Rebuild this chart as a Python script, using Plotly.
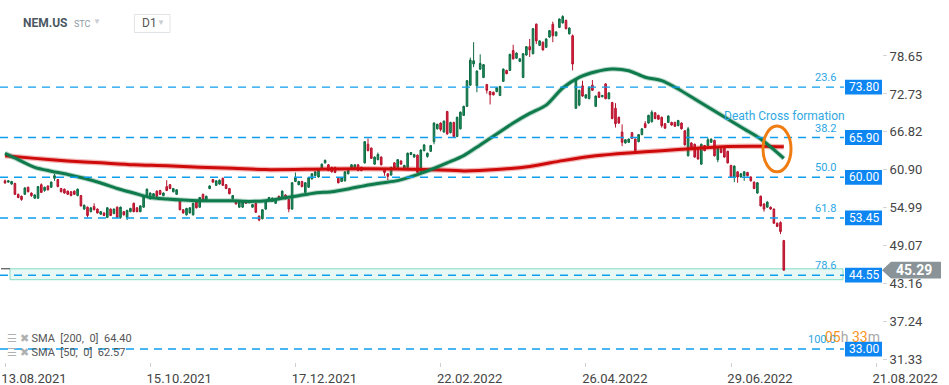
import plotly.graph_objects as go

# ---------------- data ----------------
bar_index = list(range(237))

opens = [
    59.2, 59.0, 58.7, 58.8, 57.1, 56.8, 57.1, 58.2, 57.3, 56.5,
    56.5, 58.6, 57.7, 58.4, 58.2, 59.6, 59.4, 58.0, 57.9, 57.6,
    57.5, 57.6, 56.9, 56.9, 54.8, 55.1, 54.4, 55.2, 54.8, 54.0,
    54.2, 53.5, 54.8, 54.1, 55.1, 53.5, 54.4, 53.5, 54.4, 55.7,
    55.0, 54.4, 55.1, 56.9, 56.4, 56.8, 57.6, 57.7, 56.9, 58.3,
    58.6, 57.5, 57.1, 56.2, 54.7, 53.9, 54.2, 53.9, 56.1, 55.1,
    57.1, 56.1, 58.0, 59.4, 58.5, 58.7, 59.6, 58.6, 58.0, 56.4,
    56.1, 55.1, 55.1, 56.1, 55.8, 55.1, 55.7, 53.7, 53.3, 54.8,
    56.1, 56.0, 55.7, 56.8, 56.6, 57.0, 56.3, 54.8, 59.1, 58.6,
    59.1, 57.4, 58.2, 59.5, 60.0, 59.8, 61.2, 62.0, 61.7, 61.3,
    61.3, 59.6, 59.1, 59.2, 60.3, 61.1, 61.2, 61.7, 61.3, 62.0,
    64.9, 64.3, 61.8, 62.5, 62.9, 61.0, 60.3, 60.1, 62.0, 61.3,
    62.3, 61.2, 61.3, 63.3, 62.9, 63.2, 60.5, 63.9, 63.0, 63.8,
    65.3, 67.3, 68.2, 66.8, 70.0, 66.7, 68.3, 66.1, 67.3, 69.4,
    70.8, 74.1, 77.4, 74.0, 76.6, 75.3, 74.2, 73.1, 73.0, 73.1,
    72.5, 74.7, 76.4, 76.4, 79.5, 78.3, 77.8, 75.3, 78.8, 80.1,
    79.0, 83.6, 80.3, 80.8, 80.0, 81.6, 83.6, 81.8, 83.1, 83.8,
    84.2, 82.1, 81.8, 70.5, 71.0, 74.0, 72.1, 72.0, 74.1, 70.8,
    73.0, 72.3, 74.3, 72.0, 71.4, 70.5, 69.1, 66.8, 65.1, 65.2,
    66.7, 65.7, 65.3, 66.4, 68.1, 68.2, 68.4, 69.8, 69.4, 69.1,
    68.1, 68.3, 68.3, 68.3, 67.8, 68.2, 67.0, 63.1, 65.1, 64.9,
    64.3, 61.8, 64.7, 64.7, 65.2, 65.5, 62.5, 64.2, 64.3, 63.8,
    61.6, 59.8, 60.6, 59.8, 60.0, 60.5, 59.8, 59.0, 57.3, 56.8,
    55.6, 55.1, 55.1, 54.8, 52.6, 52.7, 49.9,
]
closes = [
    58.9, 59.2, 59.1, 57.1, 56.6, 56.3, 58.1, 57.5, 56.9, 57.0,
    58.3, 57.4, 58.2, 57.8, 59.0, 60.0, 58.3, 57.5, 57.3, 57.1,
    56.9, 57.1, 57.9, 55.3, 55.4, 53.8, 55.0, 54.7, 54.2, 54.4,
    53.8, 55.0, 53.8, 54.8, 53.5, 55.1, 53.9, 54.6, 54.9, 54.4,
    54.4, 55.3, 56.9, 57.9, 57.3, 57.2, 56.8, 57.1, 57.3, 57.7,
    58.0, 58.0, 57.8, 54.7, 54.2, 54.9, 55.0, 55.7, 55.0, 56.6,
    56.2, 56.8, 58.4, 59.0, 59.2, 59.3, 58.5, 58.0, 57.2, 56.9,
    55.6, 56.0, 55.9, 55.7, 56.1, 55.5, 54.3, 53.1, 54.7, 56.1,
    56.6, 56.5, 56.4, 56.4, 57.6, 56.4, 54.8, 58.9, 59.7, 59.1,
    58.3, 58.9, 59.7, 60.3, 60.6, 61.0, 61.8, 62.4, 60.8, 60.6,
    60.5, 58.9, 59.7, 60.6, 60.8, 61.7, 61.7, 60.8, 60.8, 65.3,
    63.9, 62.7, 62.9, 63.3, 61.7, 60.5, 59.9, 61.3, 61.2, 62.5,
    61.8, 61.6, 63.5, 63.6, 63.3, 60.5, 64.0, 64.8, 63.5, 64.7,
    68.2, 68.0, 67.2, 68.5, 66.5, 68.3, 66.1, 69.1, 69.9, 70.8,
    74.8, 78.0, 77.9, 76.3, 77.5, 77.3, 73.3, 72.6, 72.6, 73.7,
    73.9, 76.6, 75.9, 78.9, 78.2, 79.1, 78.2, 79.0, 80.1, 79.6,
    82.9, 81.0, 81.0, 79.6, 81.3, 82.6, 81.8, 82.4, 84.4, 84.8,
    82.9, 83.0, 77.4, 75.1, 73.3, 72.4, 72.6, 73.8, 73.3, 72.4,
    72.2, 72.5, 72.0, 72.9, 68.9, 68.1, 68.2, 65.2, 65.6, 65.7,
    65.8, 63.9, 66.4, 67.3, 67.5, 69.4, 69.9, 68.9, 68.8, 67.8,
    67.4, 69.3, 67.9, 67.7, 68.6, 67.3, 64.8, 67.3, 64.4, 62.9,
    62.6, 64.9, 63.9, 65.6, 65.7, 63.1, 64.3, 63.6, 62.9, 62.0,
    59.8, 61.5, 59.8, 60.3, 60.6, 60.0, 59.2, 58.0, 58.9, 55.3,
    54.8, 55.9, 54.8, 52.6, 52.1, 51.3, 45.29,
]
highs = [
    59.4, 59.3, 59.2, 58.9, 57.2, 56.9, 58.2, 58.3, 57.4, 57.1,
    58.4, 58.8, 58.3, 58.5, 59.1, 60.3, 59.5, 58.1, 58.0, 57.7,
    57.6, 57.7, 58.0, 57.0, 55.5, 55.2, 55.1, 55.7, 54.9, 54.5,
    54.3, 55.1, 54.9, 54.9, 55.2, 55.2, 54.5, 54.7, 55.0, 55.8,
    55.1, 55.4, 57.0, 58.0, 57.4, 57.3, 57.7, 57.8, 57.4, 59.3,
    58.7, 58.1, 57.9, 56.3, 54.8, 55.0, 55.1, 55.8, 56.2, 56.7,
    57.2, 56.9, 58.5, 59.5, 59.3, 59.4, 59.7, 58.7, 58.1, 57.0,
    56.2, 56.1, 56.0, 56.2, 56.2, 55.6, 55.8, 53.8, 54.8, 56.2,
    56.7, 56.6, 56.5, 56.9, 57.7, 57.1, 56.4, 59.0, 60.5, 59.2,
    59.2, 59.0, 59.8, 60.4, 60.7, 61.1, 61.9, 62.5, 61.8, 61.4,
    61.4, 59.7, 59.8, 60.7, 60.9, 61.8, 61.8, 61.8, 61.4, 65.4,
    65.8, 64.4, 63.0, 63.6, 63.0, 61.1, 60.4, 61.4, 62.1, 62.6,
    62.4, 61.7, 63.6, 63.7, 63.4, 63.3, 64.1, 64.9, 63.6, 64.8,
    68.3, 68.1, 68.3, 68.6, 70.1, 68.4, 68.4, 69.2, 70.0, 70.9,
    74.9, 78.4, 80.8, 76.4, 78.9, 77.4, 74.3, 73.2, 73.1, 73.8,
    74.0, 76.7, 76.5, 79.0, 80.4, 79.2, 78.3, 79.1, 80.2, 81.3,
    83.0, 83.7, 81.1, 80.9, 81.4, 82.7, 84.0, 82.5, 84.5, 85.0,
    84.3, 83.1, 82.0, 75.2, 73.4, 74.8, 72.7, 73.9, 74.9, 72.5,
    73.1, 72.6, 74.4, 73.0, 71.5, 71.3, 69.2, 68.0, 65.7, 65.8,
    66.8, 65.8, 66.5, 67.4, 68.5, 69.5, 70.2, 69.9, 69.5, 69.2,
    68.2, 69.4, 68.4, 68.4, 68.7, 68.3, 67.1, 67.6, 65.2, 65.0,
    64.4, 65.0, 64.8, 65.9, 65.8, 65.6, 64.4, 64.3, 64.4, 63.9,
    61.7, 61.6, 60.7, 60.4, 60.7, 60.6, 59.9, 59.1, 59.0, 56.9,
    55.7, 56.0, 55.2, 54.9, 52.7, 52.9, 50.0,
]
lows = [
    58.7, 58.9, 58.6, 57.0, 56.5, 56.1, 57.0, 57.4, 56.7, 56.4,
    56.4, 57.3, 57.5, 57.7, 58.1, 59.2, 58.2, 57.4, 57.2, 57.0,
    56.8, 57.0, 56.8, 55.2, 54.7, 53.5, 54.3, 54.6, 54.1, 53.9,
    53.7, 53.4, 53.7, 54.0, 53.4, 53.3, 53.8, 53.1, 54.3, 54.3,
    54.3, 54.3, 55.0, 56.8, 56.3, 56.7, 56.7, 57.0, 56.8, 57.6,
    57.9, 57.4, 57.0, 54.6, 54.1, 53.8, 54.1, 53.8, 54.9, 55.0,
    56.1, 56.0, 57.9, 58.9, 58.4, 58.6, 58.4, 57.9, 57.1, 56.3,
    55.5, 55.0, 55.0, 55.6, 55.7, 55.0, 54.2, 52.9, 53.2, 54.7,
    56.0, 55.9, 55.6, 56.3, 56.5, 56.3, 54.3, 54.7, 59.0, 58.5,
    58.2, 57.3, 58.1, 59.4, 59.9, 59.7, 61.1, 61.9, 60.7, 60.5,
    60.4, 58.8, 59.0, 59.1, 60.2, 61.0, 61.1, 60.7, 60.7, 61.9,
    63.8, 62.6, 61.7, 62.4, 61.6, 60.0, 59.3, 60.0, 61.1, 61.2,
    61.7, 61.1, 61.2, 63.2, 62.8, 60.4, 60.4, 63.8, 62.8, 63.7,
    64.9, 67.2, 66.9, 66.7, 66.4, 66.6, 66.0, 66.0, 67.2, 69.3,
    70.7, 74.0, 76.9, 73.0, 76.5, 75.2, 72.8, 71.1, 72.5, 73.0,
    72.4, 74.6, 75.8, 76.3, 78.1, 78.2, 77.7, 75.2, 78.7, 78.5,
    78.9, 80.5, 80.2, 79.5, 79.9, 81.5, 80.8, 81.7, 83.0, 83.7,
    82.8, 82.0, 76.4, 70.4, 70.8, 72.3, 72.0, 71.9, 73.2, 70.7,
    72.1, 72.2, 71.9, 71.9, 68.8, 67.5, 68.1, 64.6, 65.0, 65.1,
    65.7, 63.8, 65.2, 66.3, 67.4, 68.1, 68.3, 68.8, 68.7, 67.5,
    67.3, 68.2, 67.8, 67.6, 67.7, 67.2, 64.7, 63.0, 64.3, 62.8,
    62.5, 61.7, 63.8, 64.6, 65.1, 63.0, 62.1, 63.5, 62.8, 61.9,
    59.7, 59.0, 58.9, 59.7, 59.2, 59.9, 59.1, 57.9, 57.2, 55.2,
    54.4, 55.0, 54.7, 52.5, 52.0, 50.9, 45.2,
]

sma200_idx = [0, 9, 19, 29, 39, 49, 59, 69, 79, 99, 119, 135, 139, 149, 159,
              169, 179, 189, 199, 209, 219, 229, 236]
sma200_val = [63.1, 62.7, 62.3, 62.0, 61.7, 61.55, 61.3, 61.15, 60.95, 61.05,
              61.05, 60.85, 60.75, 60.95, 61.45, 62.35, 63.1, 63.55, 63.9,
              64.25, 64.55, 64.6, 64.5]

sma50_idx = [0, 4, 9, 14, 19, 24, 29, 34, 39, 44, 49, 54, 59, 64, 69, 74, 79,
             84, 89, 94, 99, 104, 109, 114, 119, 124, 129, 134, 139, 144, 149,
             154, 159, 164, 169, 174, 179, 184, 189, 194, 199, 204, 209, 214,
             219, 224, 229, 236]
sma50_val = [63.5, 62.5, 61.3, 60.7, 60.2, 59.6, 58.87, 58.0, 57.3, 56.6,
             56.37, 56.2, 56.1, 56.1, 56.1, 56.0, 56.1, 56.48, 56.89, 57.31,
             57.5, 57.93, 58.45, 58.87, 59.23, 60.0, 60.95, 62.0, 63.13, 64.8,
             66.5, 68.2, 69.7, 71.0, 73.66, 75.33, 76.2, 76.62, 76.36, 75.33,
             74.8, 73.51, 71.95, 70.39, 68.84, 67.28, 65.72, 62.7]

fib_pcts = ["23.6", "38.2", "50.0", "61.8", "78.6", "100.0"]
fib_levels = [73.80, 65.95, 59.75, 53.42, 44.50, 33.00]
fib_labels = ["73.80", "65.90", "60.00", "53.45", "44.55", "33.00"]

y_ticks = [78.65, 72.73, 66.82, 60.90, 54.99, 49.07, 43.16, 37.24, 31.33]
x_tick_idx = [0, 44, 88, 132, 176, 220, 264]
x_tick_text = ["13.08.2021", "15.10.2021", "17.12.2021", "22.02.2022",
               "26.04.2022", "29.06.2022", "21.08.2022"]

last_price = 45.29
sma200_last = 64.40
sma50_last = 62.57
zone_low, zone_high = 43.8, 45.5

# ---------------- layout helpers ----------------
W, H = 949, 385
PW, PH = 882, 362  # plot area in px (margins: l=0, t=0, r=67, b=23)
X_RANGE = [-1.52, 265.76]
Y_RANGE = [30.98, 87.37]


def px(p):
    return p / PW


def py(p):
    return 1 - p / PH


def xi(p):  # pixel -> bar index
    return X_RANGE[0] + p / PW * (X_RANGE[1] - X_RANGE[0])


FONT = "Roboto, Arial, sans-serif"
FIB_BLUE = "#0d9eee"

fig = go.Figure()

# SMA 200 (red)
fig.add_trace(go.Scatter(x=sma200_idx, y=sma200_val, mode="lines",
                         line=dict(color="rgba(215,20,20,0.3)", width=5.5, shape="spline", smoothing=0.8),
                         hoverinfo="skip", showlegend=False))
fig.add_trace(go.Scatter(x=sma200_idx, y=sma200_val, mode="lines",
                         line=dict(color="#cf0a0a", width=3, shape="spline", smoothing=0.8),
                         hoverinfo="skip", showlegend=False))
# SMA 50 (green)
fig.add_trace(go.Scatter(x=sma50_idx, y=sma50_val, mode="lines",
                         line=dict(color="rgba(16,125,80,0.3)", width=5, shape="spline", smoothing=0.8),
                         hoverinfo="skip", showlegend=False))
fig.add_trace(go.Scatter(x=sma50_idx, y=sma50_val, mode="lines",
                         line=dict(color="#0f7a4c", width=3, shape="spline", smoothing=0.8),
                         hoverinfo="skip", showlegend=False))

# candles
fig.add_trace(go.Candlestick(
    x=bar_index, open=opens, high=highs, low=lows, close=closes,
    increasing=dict(line=dict(color="#0d6a42", width=1), fillcolor="#1c925f"),
    decreasing=dict(line=dict(color="#b3132d", width=1), fillcolor="#e0243f"),
    whiskerwidth=0, showlegend=False))

shapes = []
annotations = []


def note(**kw):
    kw.setdefault("showarrow", False)
    kw.setdefault("xanchor", "center")
    kw.setdefault("yanchor", "middle")
    annotations.append(kw)


# highlighted zone
shapes.append(dict(type="rect", xref="x", yref="y", x0=xi(10), x1=xi(843),
                   y0=zone_low, y1=zone_high, fillcolor="#e8f8f4",
                   line=dict(color="#86dcc8", width=1), layer="below"))
shapes.append(dict(type="line", xref="x", yref="y", x0=xi(1), x1=xi(10),
                   y0=zone_high, y1=zone_high, line=dict(color="#333", width=1)))

# fibonacci lines + labels
for pct, lvl, lab in zip(fib_pcts, fib_levels, fib_labels):
    shapes.append(dict(type="line", xref="x", yref="y", x0=X_RANGE[0], x1=xi(844),
                       y0=lvl, y1=lvl, line=dict(color=FIB_BLUE, width=1.4, dash="8px,6px")))
    shapes.append(dict(type="rect", xref="x", yref="y", x0=xi(845), x1=X_RANGE[1],
                       y0=lvl - 1.15, y1=lvl + 1.15, fillcolor="#0d86f2",
                       line=dict(width=0)))
    note(x=xi(863.5), y=lvl, xref="x", yref="y", text=lab,
         font=dict(family=FONT, size=12, color="white"))
    note(x=xi(837), y=lvl, xref="x", yref="y", text=pct,
         xanchor="right", yanchor="bottom", yshift=2, borderpad=0,
         font=dict(family=FONT, size=11, color="#2aa6e4"))

# death cross marker
shapes.append(dict(type="circle", xref="x", yref="y", x0=xi(763), x1=xi(791),
                   y0=60.6, y1=67.75, line=dict(color="#f07d12", width=3)))
note(x=xi(722), y=69.35, xref="x", yref="y", text="Death Cross formation",
     xanchor="left", font=dict(family=FONT, size=12, color="#31a8e2"))

# current price tag
y_top, y_bot = last_price + 1.3, last_price - 1.3
shapes.append(dict(type="path", xref="paper", yref="y",
                   path=f"M {px(882)} {last_price} L {px(891)} {y_top} L {px(941)} {y_top} "
                        f"L {px(941)} {y_bot} L {px(891)} {y_bot} Z",
                   fillcolor="#8a9397", line=dict(width=0)))
note(x=px(914), y=last_price, xref="paper", yref="y",
     text=f"<b>{last_price:.2f}</b>", font=dict(family=FONT, size=14, color="white"))

# header
note(x=px(21), y=py(23), xref="paper", yref="paper", text="<b>NEM.US</b>",
     xanchor="left", font=dict(family=FONT, size=12, color="#4b5863"))
note(x=px(72), y=py(24), xref="paper", yref="paper", text="STC",
     xanchor="left", font=dict(family=FONT, size=9, color="#8c9aa6"))
note(x=px(97), y=py(22), xref="paper", yref="paper", text="▼",
     font=dict(family=FONT, size=8, color="#c9cdd1"))
shapes.append(dict(type="rect", xref="paper", yref="paper", x0=px(134.5), x1=px(170),
                   y0=py(32.5), y1=py(14.5), line=dict(color="#e1e4e7", width=1),
                   fillcolor="white"))
note(x=px(140), y=py(23.5), xref="paper", yref="paper", text="D1",
     xanchor="left", font=dict(family=FONT, size=12, color="#555"))
note(x=px(161), y=py(22.5), xref="paper", yref="paper", text="▼",
     font=dict(family=FONT, size=8, color="#c9cdd1"))

# indicator legend
icons = '<span style="color:#b0b0b0">☰ ✖</span> '
note(x=px(5), y=py(338), xref="paper", yref="paper",
     text=icons + f"SMA  [200,  0]  {sma200_last:.2f}",
     xanchor="left", font=dict(family=FONT, size=11, color="#555"))
note(x=px(5), y=py(352.5), xref="paper", yref="paper",
     text=icons + f"SMA  [50,  0]  {sma50_last:.2f}",
     xanchor="left", font=dict(family=FONT, size=11, color="#555"))

# countdown
note(x=px(823), y=py(337), xref="paper", yref="paper",
     text='<span style="color:#f7931e">05</span><span style="color:#a8a8a8">h </span>'
          '<span style="color:#f7931e">33</span><span style="color:#a8a8a8">m</span>',
     xanchor="left", font=dict(family=FONT, size=14))

fig.update_layout(
    width=W, height=H,
    margin=dict(l=0, r=W - PW, t=0, b=H - PH),
    paper_bgcolor="white", plot_bgcolor="white",
    shapes=shapes, annotations=annotations,
    xaxis=dict(range=X_RANGE, rangeslider=dict(visible=False), showgrid=False,
               zeroline=False, showline=False, tickmode="array",
               tickvals=x_tick_idx, ticktext=x_tick_text, ticks="outside",
               ticklen=4, tickcolor="#cfcfcf", ticklabelshift=29,
               tickfont=dict(family=FONT, size=13, color="#444")),
    yaxis=dict(range=Y_RANGE, side="right", showgrid=False, zeroline=False,
               showline=False, tickmode="array", tickvals=y_ticks,
               ticktext=[f"{v:.2f}" for v in y_ticks], ticks="outside",
               ticklen=4, tickcolor="#d5d5d5",
               tickfont=dict(family=FONT, size=13, color="#444")),
    hovermode=False,
)

fig.write_html("out.html", config={"displayModeBar": False},
               post_script="document.body.style.margin='0';")
